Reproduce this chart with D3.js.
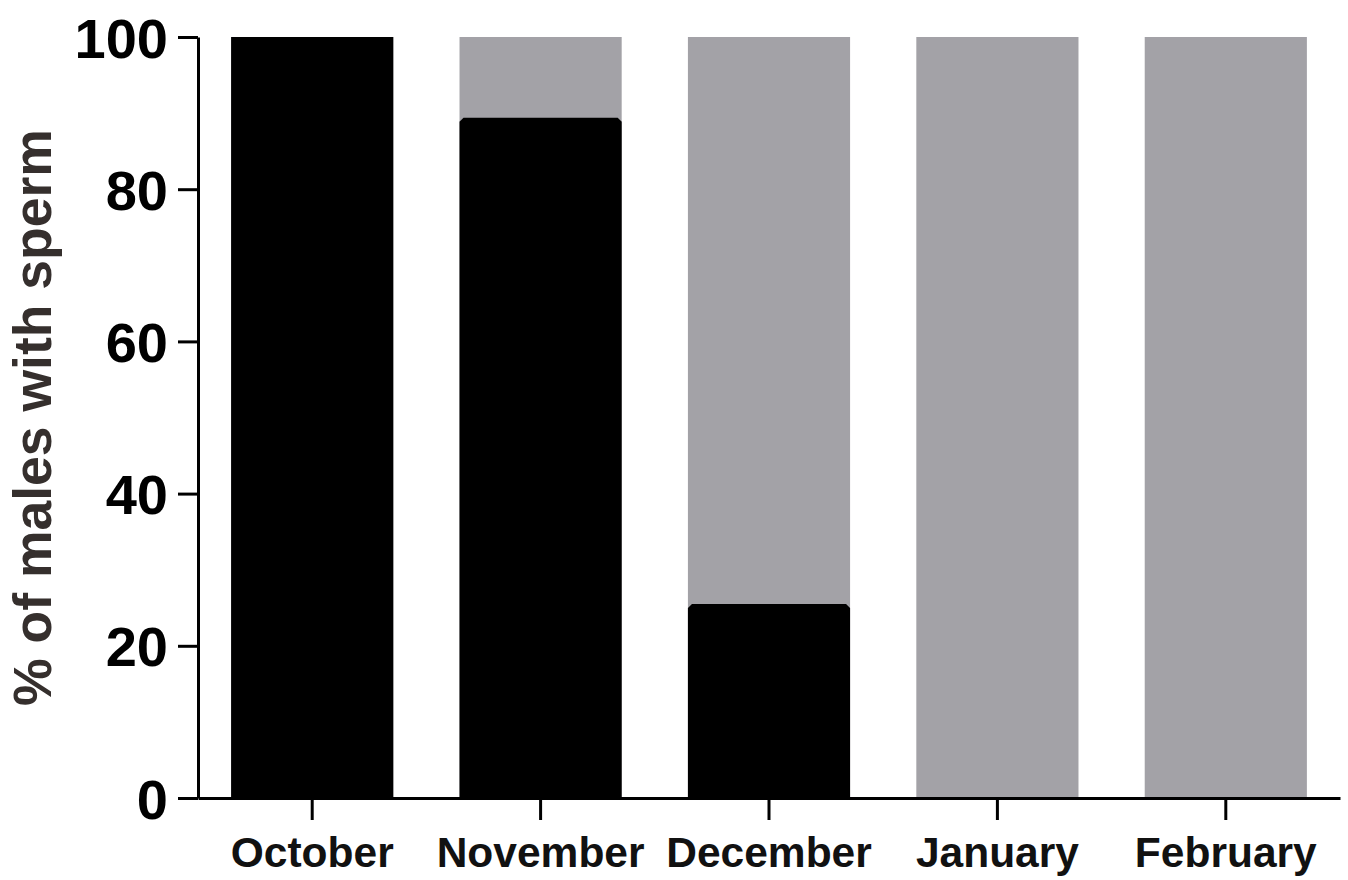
<!DOCTYPE html>
<html>
<head>
<meta charset="utf-8">
<script src="https://cdn.jsdelivr.net/npm/d3@7"></script>
<style>
  body { margin: 0; background: #fff; }
  svg { display: block; font-family: "Liberation Sans", Arial, sans-serif; }
</style>
</head>
<body>
<div id="chart"></div>
<script>
var months = ["October", "November", "December", "January", "February"];
var totalPct = [100, 100, 100, 100, 100];
var spermPct = [100, 89.4, 25.5, 0, 0];
var yTicks = [0, 20, 40, 60, 80, 100];

var width = 1348, height = 880;
var plotLeft = 198, plotRight = 1340, plotTop = 37, plotBottom = 798;

var svg = d3.select("#chart").append("svg")
    .attr("width", width)
    .attr("height", height);

var x = d3.scaleBand()
    .domain(months)
    .range([plotLeft, plotRight])
    .paddingInner(0.29)
    .paddingOuter(0.145);

var y = d3.scaleLinear()
    .domain([0, 100])
    .range([plotBottom, plotTop]);

// grey bars (all males)
svg.selectAll("rect.total")
    .data(months)
    .enter()
    .append("rect")
    .attr("class", "total")
    .attr("x", function(d) { return x(d); })
    .attr("y", function(d, i) { return y(totalPct[i]); })
    .attr("width", x.bandwidth())
    .attr("height", function(d, i) { return y(0) - y(totalPct[i]); })
    .style("fill", "#a3a2a7");

// black bars (males with sperm), small chamfer on top corners
var c = 4;
svg.selectAll("path.sperm")
    .data(months.filter(function(d, i) { return spermPct[i] > 0; }))
    .enter()
    .append("path")
    .attr("class", "sperm")
    .attr("d", function(d) {
        var i = months.indexOf(d);
        var x0 = x(d), x1 = x(d) + x.bandwidth();
        var y0 = y(spermPct[i]), y1 = y(0);
        var cc = spermPct[i] >= 100 ? 0 : c;
        return "M" + x0 + "," + y1 + "L" + x0 + "," + (y0 + cc) +
            "L" + (x0 + cc) + "," + y0 + "L" + (x1 - cc) + "," + y0 +
            "L" + x1 + "," + (y0 + cc) + "L" + x1 + "," + y1 + "Z";
    })
    .style("fill", "#000");

// y axis
var yAxis = svg.append("g")
    .attr("transform", "translate(" + plotLeft + ",0)")
    .call(d3.axisLeft(y).tickValues(yTicks).tickSize(20).tickSizeOuter(0).tickPadding(10));
yAxis.select(".domain").style("stroke-width", 3);
yAxis.selectAll(".tick line").style("stroke-width", 3);
yAxis.selectAll("text")
    .style("font-size", "56px")
    .style("font-weight", "bold")
    .style("fill", "#000")
    .attr("dy", "0.36em");

// x axis
var xAxis = svg.append("g")
    .attr("transform", "translate(0," + plotBottom + ")")
    .call(d3.axisBottom(x).tickSize(22).tickSizeOuter(0).tickPadding(17));
xAxis.select(".domain").style("stroke-width", 3);
xAxis.selectAll(".tick line").style("stroke-width", 3);
xAxis.selectAll("text")
    .style("font-size", "42.5px")
    .style("font-weight", "bold")
    .style("fill", "#111");

// y axis title
svg.append("text")
    .attr("transform", "translate(51," + ((plotTop + plotBottom) / 2) + ") rotate(-90)")
    .attr("text-anchor", "middle")
    .style("font-size", "53.5px")
    .style("font-weight", "bold")
    .style("fill", "#352f2d")
    .text("% of males with sperm");
</script>
</body>
</html>
